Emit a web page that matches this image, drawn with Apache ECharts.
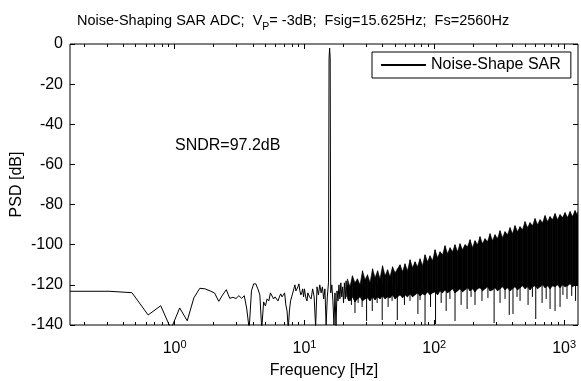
<!DOCTYPE html>
<html>
<head>
<meta charset="utf-8">
<script src="https://cdn.jsdelivr.net/npm/echarts@6/dist/echarts.min.js"></script>
<style>
  html, body { margin: 0; padding: 0; background: #fff; }
  #chart { width: 581px; height: 381px; }
</style>
</head>
<body>
<div id="chart"></div>
<script>
const FONT = "'Liberation Sans', Arial, sans-serif"
const fs = 2560
const nfft = 16384
const df = fs / nfft

// low frequency part of the PSD, one point per FFT bin
const lineBins = [
  1, 2, 3, 4, 5, 6, 7, 8, 9, 10,
  11, 12, 13, 14, 15, 16, 17, 18, 19, 20,
  21, 22, 23, 24, 25, 26, 27, 28, 29, 30,
  31, 32, 33, 34, 35, 36, 37, 38, 39, 40,
  41, 42, 43, 44, 45, 46, 47, 48, 49, 50,
  51, 52, 53, 54, 55, 56, 57, 58, 59, 60,
  61, 62, 63, 64, 65, 66, 67, 68, 69, 70,
  72, 74, 76, 78, 80, 82, 84, 86, 88, 90, 92, 94, 96, 98,
  99, 100, 101,
  102, 104, 106, 108, 110, 112, 114, 116, 118, 120,
  122, 124, 126, 128, 130, 132, 134, 136, 138, 140
]
const lineDb = [
  -123.2, -123.2, -123.9, -135, -130.4, -142, -131.5, -137.9, -126.5, -121.7,
  -122, -123, -124.1, -128.2, -125, -122.4, -126.7, -126.2, -126.8, -125.4,
  -126.7, -125.4, -132, -142, -123, -119.5, -119.5, -122, -125, -142,
  -128.5, -130.5, -127, -128, -124, -123.5, -127, -126, -125.5, -128,
  -126, -124.5, -126, -125, -124, -130, -133, -142, -133, -128,
  -126, -124, -122, -120, -123, -122.5, -121, -119.5, -123, -125,
  -124, -122, -126, -122, -125, -127, -128, -124, -124, -126,
  -127, -122, -126, -141, -121, -125, -120, -124, -121, -127, -122, -140, -126, -119,
  -7, -2, -7,
  -124, -120, -128, -140, -124, -141, -123, -128, -120, -127,
  -119, -126, -121, -129, -119, -127, -118, -126, -120, -128
]

// dense noise band above ~20 Hz: upper and lower edge of the black area
const bandHz = [
  21.43, 22.4, 23.42, 24.5, 25.6, 26.8, 28.0, 29.3, 30.6, 32.0,
  33.45, 35.0, 36.6, 38.2, 39.95, 41.8, 43.7, 45.6, 47.7, 49.9,
  52.1, 54.5, 57.0, 59.5, 62.2, 65.1, 68.0, 71.1, 74.3, 77.7,
  81.2, 84.9, 88.8, 92.8, 97.0, 101.4, 106.0, 110.8, 115.8, 121.0,
  126.5, 132.3, 138.3, 144.5, 151.1, 157.9, 165.1, 172.5, 180.4, 188.6,
  197.1, 206.0, 215.4, 225.1, 235.3, 246.0, 257.2, 268.8, 281.0, 293.8,
  307.1, 321.0, 335.6, 350.8, 366.7, 383.3, 400.7, 418.9, 437.9, 457.8,
  478.6, 500.3, 523.0, 546.7, 571.5, 597.4, 624.5, 652.9, 682.5, 713.4,
  745.8, 779.5, 815.0, 851.9, 890.6, 930.8, 973.1, 1017, 1063, 1112,
  1162, 1215, 1270, 1280
]
const bandTop = [
  -117, -121, -115.5, -119, -117, -120, -113, -117.5, -115, -119,
  -112, -116.5, -113, -117, -110.5, -115.5, -112.5, -116, -111, -114,
  -112, -110, -113.5, -109.5, -113, -107.5, -111.5, -108.5, -111, -107,
  -110.5, -105, -108.5, -105.5, -108, -102.5, -106.5, -103.5, -105, -100.5,
  -104.5, -101.5, -103.5, -100, -103.5, -99.5, -102.5, -100, -101, -97.5,
  -101.5, -98, -100, -96, -99.5, -97, -98.5, -94.5, -98, -95,
  -97, -93, -96.5, -93.5, -95, -91.5, -94.5, -90.5, -93.5, -91,
  -92.5, -88.5, -91.5, -89, -90.5, -87, -90, -87.5, -89, -85.5,
  -88.5, -86, -87.5, -84.5, -87.5, -85, -86.5, -84, -86.5, -83.5,
  -86, -83, -85.5, -83.5
]
const bandBottom = [
  -127, -128, -126, -128.5, -127, -126, -128, -127, -126.5, -128,
  -126, -127.5, -126, -127, -125.5, -127, -126, -126.5, -125, -127,
  -126, -125, -126.5, -125, -126, -124.5, -126, -125, -124, -125.5,
  -124.5, -125, -123.5, -125, -124, -123.5, -125, -123, -124, -122.5,
  -124, -123, -122, -124, -123, -122, -123.5, -122.5, -121.5, -123,
  -122, -123.5, -122, -121.5, -123, -122, -121, -123, -122.5, -121.5,
  -123, -122, -121, -122.5, -121.5, -123, -122, -121, -122.5, -121.5,
  -120.5, -122, -121, -122.5, -121, -120.5, -122, -121, -120, -121.5,
  -120.5, -122, -120.5, -121, -120, -121.5, -120, -121, -120.5, -119.5,
  -121, -120, -120.5, -120
]

// deep dips hanging below the band
const dipHz = [
  23.0, 24.5, 25.9, 27.8, 30.1, 33.3, 36.3, 39.7, 44.1, 47.3,
  51.9, 58.9, 65.0, 74.8, 77.7, 84.9, 93.6, 102.3, 113, 123.5,
  132, 144.5, 161, 179, 192, 206, 233, 259, 289, 321,
  351, 378, 404, 434, 458, 528, 570, 605, 677, 728,
  780, 852, 931, 980, 1053, 1145, 1226
]
const dipDb = [
  -130, -134, -129, -131, -138, -133, -129, -137.5, -131, -128,
  -137.5, -130, -128, -134.5, -127.5, -140, -131, -139.5, -129, -133,
  -127, -138, -130, -132, -126, -130, -128, -126.5, -139, -129,
  -127, -135, -134.5, -126, -128, -130, -126, -137, -129, -127,
  -132, -133, -131, -125, -127, -125.5, -128
]
const dipBase = -120

// x ticks (MATLAB style log axis)
const majorHz = [1, 10, 100, 1000]
const minorHz = [
  0.2, 0.3, 0.4, 0.5, 0.6, 0.7, 0.8, 0.9,
  2, 3, 4, 5, 6, 7, 8, 9,
  20, 30, 40, 50, 60, 70, 80, 90,
  200, 300, 400, 500, 600, 700, 800, 900
]

const lg = v => Math.log10(v)
const xMin = lg(df)
const xMax = lg(fs / 2)

function xAxisFor(pos, ticksHz, len, withLabels) {
  const ax = {
    type: "value",
    position: pos,
    min: xMin,
    max: xMax,
    axisLine: { show: false, onZero: false },
    axisTick: {
      show: true,
      inside: true,
      length: len,
      customValues: ticksHz.map(lg),
      lineStyle: { color: "#000", width: 1 },
    },
    axisLabel: { show: false },
    splitLine: { show: false },
  }
  if (withLabels) {
    ax.axisLabel = {
      show: true,
      customValues: majorHz.map(lg),
      margin: 14,
      color: "#000",
      formatter: v => "{b|10}{s|" + Math.round(v) + "}",
      rich: {
        b: { fontSize: 16, fontFamily: FONT, color: "#000", lineHeight: 18, padding: [8, 0, 0, 0], verticalAlign: "bottom" },
        s: { fontSize: 11, fontFamily: FONT, color: "#000", lineHeight: 13, verticalAlign: "top" },
      },
    }
    ax.name = "Frequency [Hz]"
    ax.nameLocation = "middle"
    ax.nameMoveOverlap = false
    ax.nameGap = 38
    ax.nameTextStyle = { fontSize: 16, fontFamily: FONT, color: "#000" }
  }
  return ax
}

function yAxisFor(pos, withLabels) {
  const ax = {
    type: "value",
    position: pos,
    min: -140,
    max: 0,
    interval: 20,
    axisLine: { show: false, onZero: false },
    axisTick: { show: true, inside: true, length: 5, lineStyle: { color: "#000", width: 1 } },
    axisLabel: { show: false },
    splitLine: { show: false },
  }
  if (withLabels) {
    ax.axisLabel = { show: true, margin: 7, color: "#000", fontSize: 16, fontFamily: FONT }
    ax.name = "PSD [dB]"
    ax.nameLocation = "middle"
    ax.nameMoveOverlap = false
    ax.nameGap = 45
    ax.nameTextStyle = { fontSize: 16, fontFamily: FONT, color: "#000" }
  }
  return ax
}

const chart = echarts.init(document.getElementById("chart"))

const option = {
  animation: false,
  backgroundColor: "#fff",
  title: {
    text: "Noise-Shaping SAR ADC;  V{sub|P}= -3dB;  Fsig=15.625Hz;  Fs=2560Hz",
    left: 77,
    top: 9,
    padding: 0,
    textStyle: {
      fontSize: 14.5,
      fontWeight: "normal",
      fontFamily: FONT,
      color: "#000",
      rich: {
        sub: { fontSize: 10.5, fontFamily: FONT, color: "#000", padding: [13, 0, 0, 0] },
      },
    },
  },
  legend: {
    data: ["Noise-Shape SAR"],
    left: 372,
    top: 52,
    padding: [5, 10, 5, 8],
    itemWidth: 45,
    itemHeight: 14,
    itemStyle: { opacity: 0 },
    borderColor: "#000",
    borderWidth: 1,
    borderRadius: 0,
    backgroundColor: "#fff",
    selectedMode: false,
    textStyle: { fontSize: 16, fontFamily: FONT, color: "#000" },
  },
  grid: {
    left: 70,
    right: 3,
    top: 44,
    bottom: 56,
    outerBoundsMode: "none",
    containLabel: false,
    show: true,
    borderColor: "#000",
    borderWidth: 1,
    backgroundColor: "#fff",
  },
  xAxis: [
    xAxisFor("bottom", majorHz, 5, true),
    xAxisFor("bottom", minorHz, 3, false),
    xAxisFor("top", majorHz, 5, false),
    xAxisFor("top", minorHz, 3, false),
  ],
  yAxis: [yAxisFor("left", true), yAxisFor("right", false)],
  graphic: [
    {
      type: "text",
      left: 175,
      top: 138,
      style: { text: "SNDR=97.2dB", fill: "#000", font: "16px " + FONT },
    },
  ],
  series: [
    {
      name: "band",
      type: "custom",
      xAxisIndex: 0,
      yAxisIndex: 0,
      clip: true,
      silent: true,
      encode: { x: [0, 1], y: [2, 3, 4, 5] },
      data: bandHz.slice(0, -1).map((f, i) => [
        lg(f), lg(bandHz[i + 1]), bandTop[i], bandTop[i + 1], bandBottom[i], bandBottom[i + 1],
      ]),
      renderItem: (params, api) => {
        const x0 = api.value(0)
        const x1 = api.value(1)
        const pts = [
          api.coord([x0, api.value(2)]),
          api.coord([x1, api.value(3)]),
          api.coord([x1, api.value(5)]),
          api.coord([x0, api.value(4)]),
        ]
        return {
          type: "polygon",
          shape: { points: pts },
          style: { fill: "#000", stroke: "#000", lineWidth: 0.6 },
        }
      },
    },
    {
      name: "dips",
      type: "custom",
      xAxisIndex: 0,
      yAxisIndex: 0,
      clip: true,
      silent: true,
      encode: { x: 0, y: 1 },
      data: dipHz.map((f, i) => [lg(f), dipDb[i]]),
      renderItem: (params, api) => {
        const a = api.coord([api.value(0), dipBase])
        const b = api.coord([api.value(0), api.value(1)])
        return {
          type: "line",
          shape: { x1: a[0], y1: a[1], x2: b[0], y2: b[1] },
          style: { stroke: "#000", lineWidth: 1 },
        }
      },
    },
    {
      name: "Noise-Shape SAR",
      type: "line",
      xAxisIndex: 0,
      yAxisIndex: 0,
      symbol: "none",
      showSymbol: false,
      clip: true,
      lineStyle: { color: "#000", width: 1 },
      itemStyle: { color: "#000" },
      data: lineBins.map((b, i) => [lg(b * df), lineDb[i]]),
    },
  ],
}

chart.setOption(option)
</script>
</body>
</html>
